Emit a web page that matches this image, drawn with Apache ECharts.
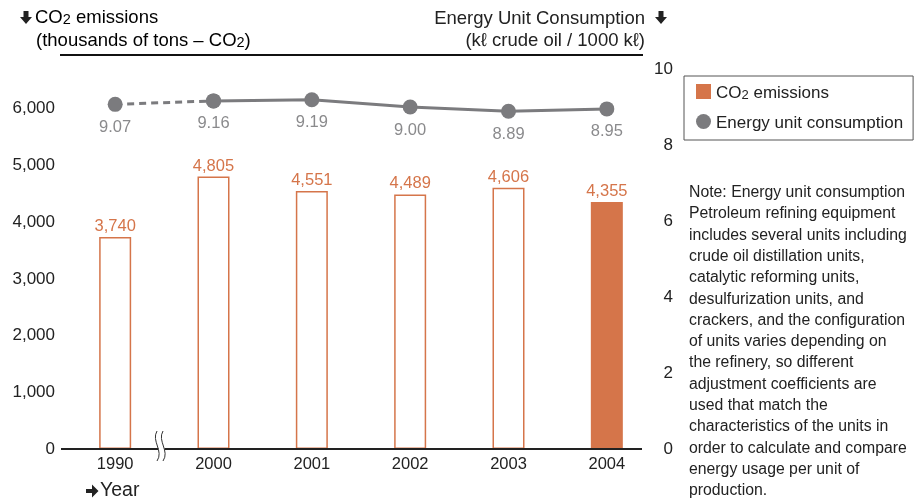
<!DOCTYPE html>
<html>
<head>
<meta charset="utf-8">
<script src="https://cdn.jsdelivr.net/npm/echarts@6/dist/echarts.min.js"></script>
<style>
  html, body { margin: 0; padding: 0; background: #fff; }
  #chart { width: 919px; height: 499px; }
</style>
</head>
<body>
<div id="chart"></div>
<script>
// chart data
const years = ['1990', '2000', '2001', '2002', '2003', '2004'];
const co2Emissions = [3740, 4805, 4551, 4489, 4606, 4355];
const energyUnit = [9.07, 9.16, 9.19, 9.00, 8.89, 8.95];
const leftTicks = { min: 0, max: 6700, interval: 1000 };
const rightTicks = { min: 0, max: 10, interval: 2 };

const orange = '#d5754a';
const gray = '#7b7b7e';
const font = '"Liberation Sans", Arial, Helvetica, sans-serif';

const noteLines = [
  'Note: Energy unit consumption',
  'Petroleum refining equipment',
  'includes several units including',
  'crude oil distillation units,',
  'catalytic reforming units,',
  'desulfurization units, and',
  'crackers, and the configuration',
  'of units varies depending on',
  'the refinery, so different',
  'adjustment coefficients are',
  'used that match the',
  'characteristics of the units in',
  'order to calculate and compare',
  'energy usage per unit of',
  'production.'
];

const chart = echarts.init(document.getElementById('chart'), null, { renderer: 'canvas' });

// last year is filled, the rest are outlined
const barData = co2Emissions.map((v, i) => ({
  value: v,
  itemStyle: i === co2Emissions.length - 1
    ? { color: orange, borderColor: orange, borderWidth: 0 }
    : { color: '#fff', borderColor: orange, borderWidth: 1.5 }
}));

// solid part from 2000 onwards, dashed part 1990 -> 2000
const solidData = energyUnit.map((v, i) => (i === 0 ? '-' : v));
const dashedData = energyUnit.map((v, i) => (i <= 1 ? v : '-'));

const lineLabel = {
  show: true,
  position: 'bottom',
  distance: 7,
  color: '#8a8a8c',
  fontSize: 16.5,
  fontFamily: font,
  formatter: p => p.value.toFixed(2)
};

// rich styles for CO2 with a subscript 2
function subRich(size) {
  return {
    n: { fontSize: size, fontFamily: font, color: '#222', lineHeight: size + 4, verticalAlign: 'bottom' },
    s: { fontSize: size - 4, fontFamily: font, color: '#222', lineHeight: size + 1, verticalAlign: 'bottom' }
  };
}

// down arrow polygon helper
function downArrow(x, y) {
  return {
    type: 'polygon',
    shape: { points: [[x + 3.5, y], [x + 8.5, y], [x + 8.5, y + 6], [x + 12, y + 6], [x + 6, y + 13], [x, y + 6], [x + 3.5, y + 6]] },
    style: { fill: '#222' }
  };
}

const option = {
  backgroundColor: '#fff',
  animation: false,
  textStyle: { fontFamily: font },
  grid: { left: 66, right: 263, top: 69, bottom: 50 },
  legend: {
    orient: 'vertical',
    left: 684,
    top: 76,
    padding: [8, 10, 8, 12],
    itemGap: 12,
    itemWidth: 15,
    itemHeight: 15,
    borderColor: '#555',
    borderWidth: 1,
    textStyle: { fontSize: 17, color: '#222', fontFamily: font, rich: subRich(17) },
    formatter: name => (name === 'CO2 emissions' ? '{n|CO}{s|2}{n| emissions}' : '{n|' + name + '}'),
    data: [
      { name: 'CO2 emissions', icon: 'rect' },
      { name: 'Energy unit consumption', icon: 'circle' }
    ]
  },
  xAxis: {
    type: 'category',
    data: years,
    axisLine: { show: false },
    axisTick: { show: false },
    axisLabel: { fontSize: 16.5, color: '#222', margin: 7, fontFamily: font }
  },
  yAxis: [
    {
      type: 'value',
      min: leftTicks.min,
      max: leftTicks.max,
      interval: leftTicks.interval,
      splitLine: { show: false },
      axisLine: { show: false },
      axisTick: { show: false },
      axisLabel: {
        showMaxLabel: false,
        fontSize: 17,
        color: '#222',
        margin: 11,
        fontFamily: font,
        formatter: v => v.toLocaleString('en-US')
      }
    },
    {
      type: 'value',
      min: rightTicks.min,
      max: rightTicks.max,
      interval: rightTicks.interval,
      splitLine: { show: false },
      axisLine: { show: false },
      axisTick: { show: false },
      axisLabel: { fontSize: 17, color: '#222', margin: 17, align: 'right', fontFamily: font }
    }
  ],
  series: [
    {
      name: 'CO2 emissions',
      type: 'bar',
      yAxisIndex: 0,
      barWidth: 32,
      data: barData,
      itemStyle: { color: orange },
      label: {
        show: true,
        position: 'top',
        distance: 2,
        color: orange,
        fontSize: 16.5,
        fontFamily: font,
        formatter: p => p.value.toLocaleString('en-US')
      }
    },
    {
      name: 'Energy unit consumption',
      type: 'line',
      yAxisIndex: 1,
      data: solidData,
      color: gray,
      symbol: 'circle',
      symbolSize: 15,
      lineStyle: { color: gray, width: 3 },
      itemStyle: { color: gray },
      label: lineLabel,
      z: 3
    },
    {
      name: 'dashed',
      type: 'line',
      yAxisIndex: 1,
      data: dashedData,
      symbol: 'circle',
      symbolSize: 15,
      lineStyle: { color: gray, width: 3, type: [7, 5] },
      itemStyle: { color: gray },
      label: Object.assign({}, lineLabel, {
        formatter: p => (p.dataIndex === 0 ? p.value.toFixed(2) : '')
      }),
      z: 2
    }
  ],
  graphic: [
    downArrow(20, 11),
    {
      type: 'text', left: 35, top: 8,
      style: { text: '{n|CO}{s|2}{n| emissions}', rich: subRich(18.5) }
    },
    {
      type: 'text', left: 36, top: 31,
      style: { text: '{n|(thousands of tons – CO}{s|2}{n|)}', rich: subRich(18.5) }
    },
    {
      type: 'text', right: 274, top: 9,
      style: { text: 'Energy Unit Consumption', fontSize: 18.5, fill: '#222', fontFamily: font }
    },
    downArrow(655, 11),
    {
      type: 'text', right: 274, top: 31,
      style: { text: '(kℓ crude oil / 1000 kℓ)', fontSize: 18.5, fill: '#222', fontFamily: font }
    },
    {
      type: 'line',
      shape: { x1: 60, y1: 55, x2: 643, y2: 55 },
      style: { stroke: '#111', lineWidth: 2 }
    },
    // x axis line
    {
      type: 'line',
      shape: { x1: 61, y1: 449, x2: 642, y2: 449 },
      style: { stroke: '#222', lineWidth: 2 },
      z: 10
    },
    // axis break mark
    {
      type: 'polygon',
      shape: { points: [[156, 431], [162, 431], [165, 446], [162, 460], [156, 460], [159, 446]] },
      style: { fill: '#fff' },
      z: 11
    },
    {
      type: 'bezierCurve',
      shape: { x1: 157, y1: 431, cpx1: 151, cpy1: 441, cpx2: 164, cpy2: 451, x2: 157, y2: 461 },
      style: { stroke: '#333', lineWidth: 1, fill: null },
      z: 12
    },
    {
      type: 'bezierCurve',
      shape: { x1: 163, y1: 431, cpx1: 157, cpy1: 441, cpx2: 170, cpy2: 451, x2: 163, y2: 461 },
      style: { stroke: '#333', lineWidth: 1, fill: null },
      z: 12
    },
    // "Year" label with right arrow
    {
      type: 'polygon',
      shape: { points: [[86, 489], [92, 489], [92, 484.5], [98.5, 491], [92, 497.5], [92, 493], [86, 493]] },
      style: { fill: '#222' }
    },
    {
      type: 'text', left: 100, top: 481,
      style: { text: 'Year', fontSize: 19.5, fill: '#222', fontFamily: font }
    },
    {
      type: 'text', left: 689, top: 182,
      style: {
        text: noteLines.join('\n'),
        fontSize: 15.8,
        lineHeight: 21.3,
        fill: '#222',
        fontFamily: font
      }
    }
  ]
};

chart.setOption(option);
</script>
</body>
</html>
